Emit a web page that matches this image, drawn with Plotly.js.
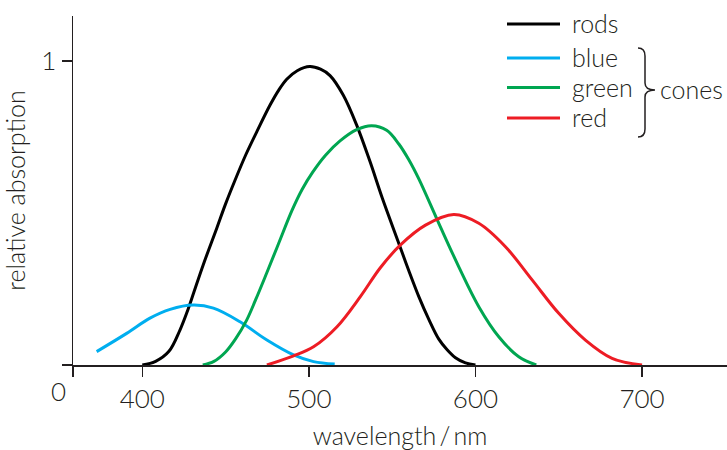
<!DOCTYPE html>
<html>
<head>
<meta charset="utf-8">
<script src="https://cdn.plot.ly/plotly-3.0.1.min.js"></script>
<style>html,body{margin:0;padding:0;background:#fff;}#chart{width:727px;height:450px;}</style>
</head>
<body>
<div id="chart"></div>
<script>
// ---- data ----
const seriesNames = ["rods", "blue", "green", "red"];
const seriesColors = ["#000000", "#00aeef", "#00a651", "#ed1c24"];

const rodsX = [400, 408, 416, 422.6, 427.6, 431, 436.6, 444.7, 450, 455.6, 462, 468.7, 476.7, 482, 486.7, 493, 500.5, 507, 512.7, 520.6, 528.7, 536.7, 544, 554, 560, 566, 572, 578, 583, 588, 594, 600];
const rodsY = [0, 0.012, 0.045, 0.115, 0.185, 0.24, 0.33, 0.45, 0.53, 0.607, 0.69, 0.767, 0.855, 0.905, 0.94, 0.968, 0.982, 0.973, 0.952, 0.888, 0.789, 0.669, 0.55, 0.40, 0.31, 0.225, 0.15, 0.085, 0.05, 0.024, 0.007, 0];

const blueX = [372.6, 390.6, 404.6, 416.7, 430.7, 442.7, 458.7, 474.8, 490.8, 502.8, 515.5];
const blueY = [0.044, 0.104, 0.154, 0.183, 0.197, 0.187, 0.142, 0.082, 0.033, 0.011, 0.003];

const greenX = [436.3, 443, 450, 456, 462.5, 468, 474.5, 482, 490, 496, 502.4, 510, 518.7, 528.7, 537.7, 546.7, 554, 560, 566, 578, 590, 602, 614, 626, 636.5];
const greenY = [0, 0.012, 0.043, 0.086, 0.146, 0.214, 0.30, 0.402, 0.51, 0.578, 0.635, 0.69, 0.737, 0.774, 0.787, 0.772, 0.727, 0.675, 0.612, 0.466, 0.323, 0.192, 0.093, 0.027, 0];

const redX = [474.8, 490.8, 502.8, 516.9, 530.9, 542.9, 555, 570, 587, 602, 618, 634, 650, 666, 682, 700];
const redY = [0, 0.03, 0.06, 0.126, 0.225, 0.32, 0.395, 0.46, 0.495, 0.466, 0.389, 0.28, 0.17, 0.082, 0.022, 0];

const xTickVals = [358.4, 400, 500, 600, 700];
const xTickText = ["", "400", "500", "600", "700"];
const yTickVals = [0, 1];
const yTickText = ["", "1"];
const xRange = [358.4, 751];
const yRange = [0, 1.148];

// ---- layout helpers ----
const W = 727, H = 450;
const M = {l: 73, r: 0, t: 16, b: 85};
const pw = W - M.l - M.r, ph = H - M.t - M.b;
const px = x => (x - M.l) / pw;
const py = y => (H - M.b - y) / ph;

const TXT = "#231f20";
const FONT = "Lato, Liberation Sans, Arial, sans-serif";
const FW = 300;
const FS = 25;

const xs = [rodsX, blueX, greenX, redX];
const ys = [rodsY, blueY, greenY, redY];
const traces = seriesNames.map((n, i) => ({
  type: "scatter", mode: "lines", name: n,
  x: xs[i], y: ys[i],
  line: {color: seriesColors[i], width: 3, shape: "spline", smoothing: 1},
  hoverinfo: "x+y+name"
}));

// custom legend
const legendRowsY = [24, 58, 87.5, 118];
const shapes = [];
const annotations = [];
seriesNames.forEach((n, i) => {
  shapes.push({type: "line", xref: "paper", yref: "paper",
    x0: px(507), x1: px(560), y0: py(legendRowsY[i]), y1: py(legendRowsY[i]),
    line: {color: seriesColors[i], width: 3}});
  annotations.push({xref: "paper", yref: "paper", x: px(570), y: py(legendRowsY[i] - 1),
    xanchor: "left", yanchor: "middle", showarrow: false, text: n,
    font: {family: FONT, size: FS, color: TXT, weight: FW}});
});
// brace grouping the cones
shapes.push({type: "path", xref: "paper", yref: "paper",
  xsizemode: "pixel", ysizemode: "pixel", xanchor: 1, yanchor: 1,
  path: "M -89,-32 Q -82,-32 -82,-40 L -82,-67 Q -82,-74 -72,-74 Q -82,-74 -82,-81 L -82,-113 Q -82,-121 -89,-121",
  line: {color: TXT, width: 1.5}});
annotations.push({xref: "paper", yref: "paper", x: px(658), y: py(89),
  xanchor: "left", yanchor: "middle", showarrow: false, text: "cones",
  font: {family: FONT, size: FS, color: TXT, weight: FW}});
// origin label
annotations.push({xref: "paper", yref: "paper", x: px(58.5), y: py(391),
  xanchor: "center", yanchor: "middle", showarrow: false, text: "0",
  font: {family: FONT, size: 26, color: TXT, weight: FW}});

const layout = {
  width: W, height: H,
  margin: M,
  paper_bgcolor: "#fff", plot_bgcolor: "#fff",
  showlegend: false,
  font: {family: FONT, size: FS, color: TXT, weight: FW},
  xaxis: {
    range: xRange, showgrid: false, zeroline: false,
    showline: true, linecolor: TXT, linewidth: 1.5,
    ticks: "outside", ticklen: 10, tickwidth: 1.5, tickcolor: TXT,
    tickvals: xTickVals, ticktext: xTickText,
    tickfont: {family: FONT, size: 26, color: TXT, weight: FW},
    title: {text: "wavelength\u2009/\u2009nm", font: {family: FONT, size: FS, color: TXT, weight: FW}, standoff: 20}
  },
  yaxis: {
    range: yRange, showgrid: false, zeroline: false,
    showline: true, linecolor: TXT, linewidth: 1.5,
    ticks: "outside", ticklen: 10, tickwidth: 1.5, tickcolor: TXT,
    tickvals: yTickVals, ticktext: yTickText,
    tickfont: {family: FONT, size: 26, color: TXT, weight: FW},
    title: {text: "relative absorption", font: {family: FONT, size: FS, color: TXT, weight: FW}, standoff: 8}
  },
  shapes: shapes,
  annotations: annotations
};

Plotly.newPlot("chart", traces, layout, {displayModeBar: false, staticPlot: true});
</script>
</body>
</html>
